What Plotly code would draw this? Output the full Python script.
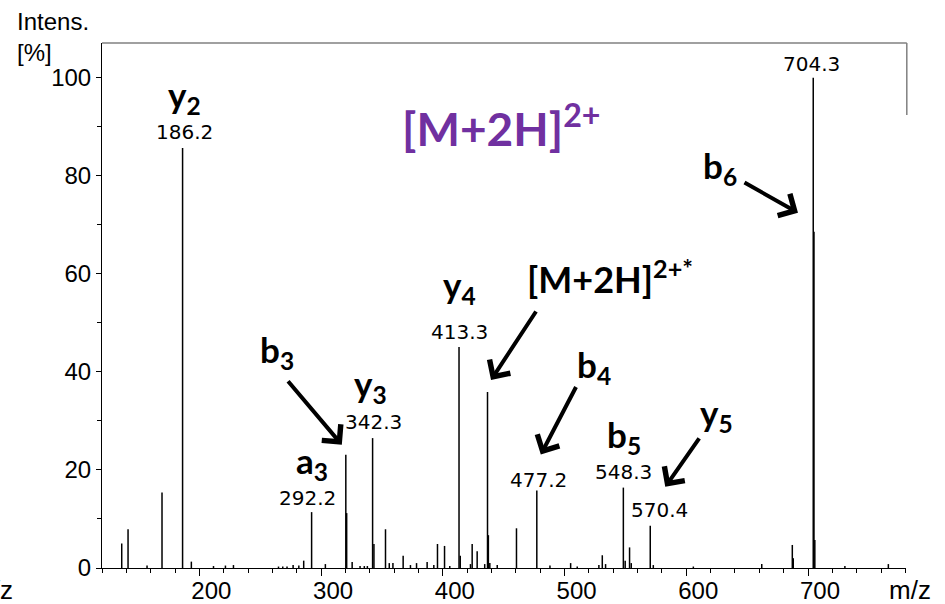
import plotly.graph_objects as go

# ---------------- data ----------------
peak_mz = [136.2, 141.4, 157.0, 169.3, 186.2, 193.4, 211.6, 221.4, 228.0, 265.0,
           268.5, 272.0, 277.0, 281.7, 285.7, 292.2, 303.5, 320.3, 321.0, 325.5,
           332.0, 335.5, 338.0, 342.3, 343.4, 352.9, 356.0, 359.0, 367.4, 373.4,
           378.4, 387.1, 392.6, 395.6, 401.4, 405.7, 413.3, 414.3, 422.7, 424.1,
           428.2, 434.4, 436.7, 437.4, 438.6, 444.7, 460.5, 477.2, 488.0, 505.0,
           510.4, 528.2, 531.0, 533.7, 548.3, 549.8, 553.4, 554.8, 570.4, 572.9,
           605.8, 662.0, 687.1, 687.9, 704.3, 704.9, 705.6, 730.3, 766.0]
peak_int = [5.0, 7.9, 0.5, 15.4, 85.7, 1.3, 0.4, 0.5, 0.6, 0.3,
            0.3, 0.3, 0.6, 0.5, 1.5, 11.4, 0.8, 23.1, 11.2, 1.2,
            0.4, 0.4, 0.4, 26.5, 4.9, 7.9, 1.0, 1.0, 2.5, 0.6,
            1.0, 1.2, 0.6, 4.9, 4.5, 0.4, 45.1, 2.5, 0.8, 4.9,
            3.4, 0.8, 35.9, 6.7, 1.0, 0.6, 8.1, 15.8, 0.5, 1.0,
            0.3, 0.6, 2.6, 0.8, 16.4, 1.5, 4.2, 1.0, 8.6, 0.6,
            0.3, 0.8, 4.7, 2.0, 100.0, 68.6, 5.7, 0.4, 0.8]

# labelled peaks (m/z value printed above the peak)
label_mz = [186.2, 292.2, 342.3, 413.3, 477.2, 548.3, 570.4, 704.3]
label_int = [85.7, 11.4, 26.5, 45.1, 15.8, 16.4, 8.6, 100.0]

# ion names: text, anchor m/z, anchor intensity
ion_text = ["y<sub>2</sub>", "a<sub>3</sub>", "y<sub>3</sub>", "y<sub>4</sub>",
            "b<sub>5</sub>", "b<sub>3</sub>", "[M+2H]<sup>2+*</sup>",
            "b<sub>4</sub>", "y<sub>5</sub>", "b<sub>6</sub>"]
ion_mz = [186.2, 292.2, 342.3, 413.3, 548.3, 320.3, 436.7, 477.2, 570.4, 704.3]
ion_int = [85.7, 11.4, 26.5, 45.1, 16.4, 23.1, 35.9, 15.8, 8.6, 100.0]

# arrows pointing at peaks: anchor m/z, anchor intensity
arrow_mz = [320.3, 436.7, 477.2, 570.4, 704.9]
arrow_int = [23.1, 35.9, 15.8, 8.6, 68.6]

x_ticks = [200, 300, 400, 500, 600, 700]
y_ticks = [0, 20, 40, 60, 80, 100]

# ---------------- layout offsets (pixels) ----------------
label_shift = [(2, 16), (-4, 14), (1, 16), (0, 15), (2, 11), (0, 16), (9, 16), (-2, 14)]
ion_shift = [(2, 51), (0, 50), (-2, 53), (0, 60), (1, 51), (-69, 103), (122, 115),
             (57, 124), (66, 111), (-93, -90)]
arrow_geom = [(-4, 10, -55, -65), (3.5, 12, 46, -70), (4, 36, 36, -69),
              (15, 39, 35, -50), (-16, 19, -55, -31)]

# ---------------- figure ----------------
xs, ys = [], []
for m, i in zip(peak_mz, peak_int):
    xs += [m, m, None]
    ys += [0, i, None]

fig = go.Figure()
fig.add_trace(go.Scatter(x=xs, y=ys, mode="lines",
                         line=dict(color="black", width=1.5),
                         hoverinfo="skip", showlegend=False))

ann = []
num_font = dict(family="DejaVu Sans", size=20, color="black")
for m, i, (dx, dy) in zip(label_mz, label_int, label_shift):
    ann.append(dict(x=m, y=i, xref="x", yref="y", text=f"{m:.1f}", showarrow=False,
                    xanchor="center", yanchor="middle", xshift=dx, yshift=dy,
                    font=num_font))

ion_font = dict(family="Lato", size=35, color="black", weight=700)
for t, m, i, (dx, dy) in zip(ion_text, ion_mz, ion_int, ion_shift):
    f = dict(ion_font)
    if t.startswith("["):
        f["size"] = 36
    ann.append(dict(x=m, y=i, xref="x", yref="y", text=t, showarrow=False,
                    xanchor="center", yanchor="middle", xshift=dx, yshift=dy,
                    font=f))

for m, i, (dx, dy, ax, ay) in zip(arrow_mz, arrow_int, arrow_geom):
    ann.append(dict(x=m, y=i, xref="x", yref="y", text="", showarrow=True,
                    xshift=dx, yshift=dy, ax=ax, ay=ay,
                    arrowhead=4, arrowsize=1.2, arrowwidth=4, arrowcolor="black"))

ann.append(dict(x=0.496, y=0.905, xref="paper", yref="paper",
                text="[M+2H]<sup>2+</sup>", showarrow=False,
                font=dict(family="Lato", size=46, color="#7030A0", weight=700)))
axis_font = dict(family="Liberation Sans", size=24, color="black")
ann.append(dict(x=-0.108, y=1.0105, xref="paper", yref="paper",
                text="Intens.<br>[%]", showarrow=False, align="left",
                xanchor="left", yanchor="middle",
                font=dict(family="Liberation Sans", size=24, color="black")))
ann.append(dict(x=1.005, y=-0.0419, xref="paper", yref="paper", text="m/z",
                showarrow=False, xanchor="center", yanchor="middle",
                font=dict(family="Liberation Sans", size=26, color="black")))
ann.append(dict(x=-0.108, y=-0.0419, xref="paper", yref="paper", text="m/z",
                showarrow=False, xanchor="right", yanchor="middle",
                font=dict(family="Liberation Sans", size=26, color="black")))

fig.update_layout(
    width=945, height=604,
    margin=dict(l=102, r=39, t=43, b=36),
    plot_bgcolor="white", paper_bgcolor="white",
    annotations=ann,
    shapes=[
        dict(type="line", xref="paper", yref="paper", x0=0, x1=1.001, y0=1, y1=1,
             line=dict(color="#808080", width=1.5)),
        dict(type="line", xref="paper", yref="paper", x0=1.001, x1=1.001, y0=1, y1=0.863,
             line=dict(color="#808080", width=1.5)),
    ],
)
fig.update_xaxes(range=[120, 780.5], tickvals=x_ticks, ticktext=[str(v) for v in x_ticks],
                 automargin=False, ticklabelstandoff=-6, ticklabelshift=12,
                 showgrid=False, zeroline=False, showline=True, linecolor="black", linewidth=1,
                 ticks="outside", ticklen=7, tickcolor="black", tickfont=axis_font,
                 minor=dict(dtick=20, tick0=0, ticks="outside", ticklen=4, tickcolor="black"))
fig.update_yaxes(range=[0, 107.1], tickvals=y_ticks, ticktext=[str(v) for v in y_ticks],
                 automargin=False,
                 showgrid=False, zeroline=False, showline=True, linecolor="black", linewidth=1,
                 ticks="outside", ticklen=5, tickcolor="black", tickfont=axis_font,
                 minor=dict(dtick=10, tick0=0, ticks="outside", ticklen=4, tickcolor="black"))

# remove the default 8px page margin so the figure sits at the window's corner
fig.write_html("out.html", config={"displayModeBar": False},
               post_script="document.body.style.margin='0';document.body.style.overflow='hidden';")
